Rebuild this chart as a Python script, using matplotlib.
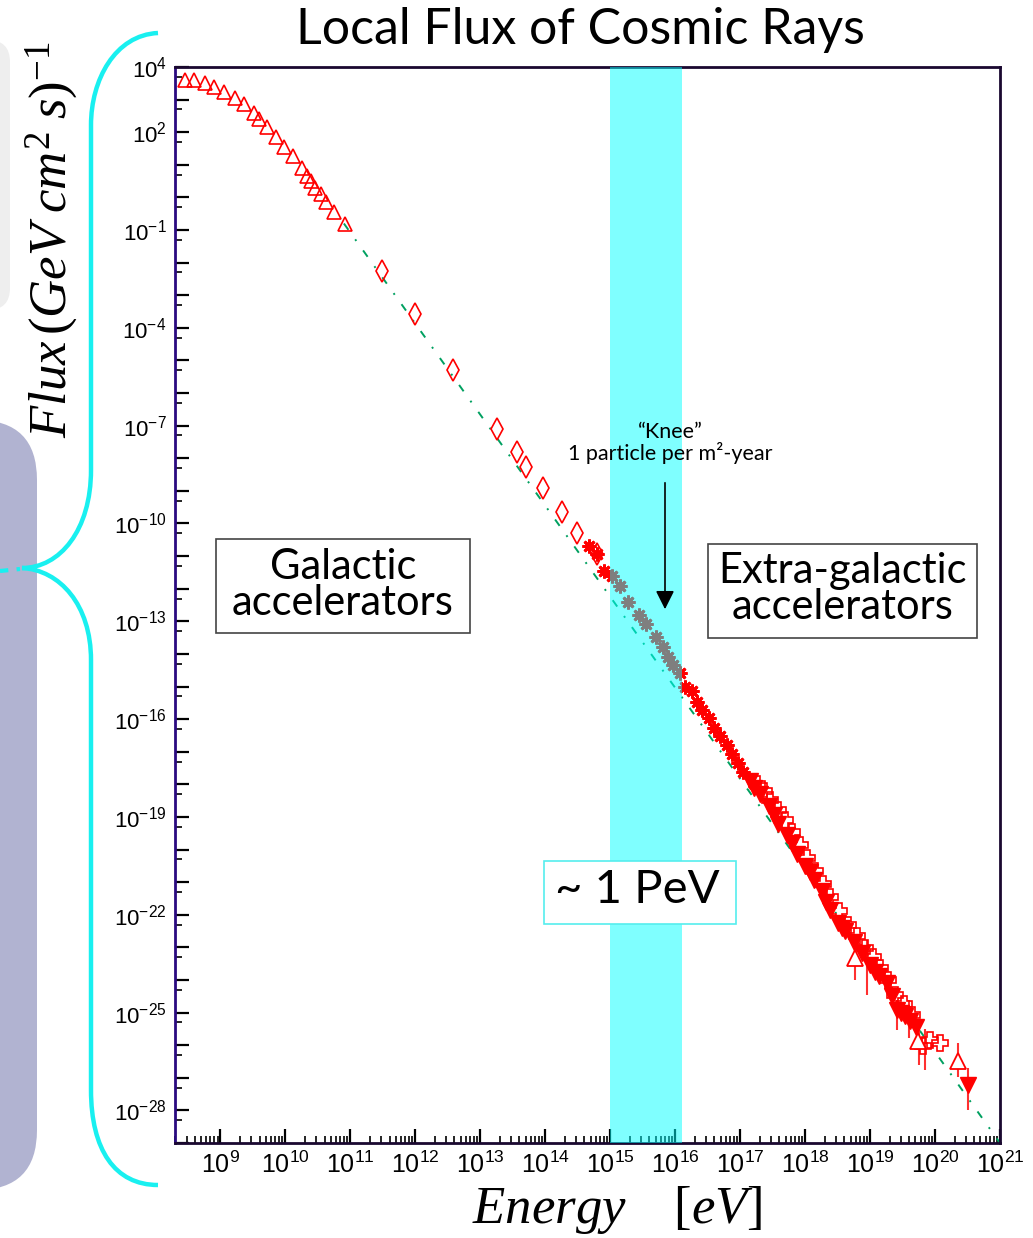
import numpy as np
import matplotlib.pyplot as plt
from matplotlib.patches import FancyBboxPatch, PathPatch, Rectangle
from matplotlib.path import Path
from matplotlib.transforms import IdentityTransform
from matplotlib.ticker import FixedLocator, NullFormatter

plt.rcParams['font.family'] = ['Liberation Sans', 'DejaVu Sans']
plt.rcParams['mathtext.fontset'] = 'custom'
plt.rcParams['mathtext.rm'] = 'Liberation Serif'
plt.rcParams['mathtext.it'] = 'Liberation Serif:italic'

W, H = 1033, 1238

# --- datos (log10 de energia en eV y log10 del flujo) ---
tri_logE = [8.45, 8.60, 8.76, 8.90, 9.05, 9.22, 9.36, 9.51, 9.60, 9.71, 9.85,
            9.98, 10.11, 10.26, 10.33, 10.40, 10.46, 10.54, 10.63, 10.74, 10.91]
tri_logF = [3.60, 3.60, 3.50, 3.40, 3.24, 3.06, 2.85, 2.58, 2.39, 2.17, 1.86,
            1.55, 1.27, 0.91, 0.65, 0.50, 0.30, 0.09, -0.15, -0.45, -0.83]

dia_logE = [11.49, 12.00, 12.58, 13.26, 13.56, 13.71, 13.96, 14.26, 14.49, 14.80]
dia_logF = [-2.26, -3.59, -5.28, -7.10, -7.81, -8.26, -8.90, -9.65, -10.29, -10.95]

star_logE = [14.67, 14.80, 14.91, 15.03, 15.15, 15.28, 15.45, 15.55, 15.71, 15.81,
             15.89, 15.97, 16.08, 16.15, 16.26, 16.33, 16.42, 16.52, 16.60, 16.69,
             16.80, 16.88, 16.97, 17.05]
star_logF = [-10.70, -10.95, -11.46, -11.62, -11.92, -12.40, -12.82, -13.07, -13.48, -13.78,
             -14.09, -14.35, -14.60, -15.00, -15.14, -15.47, -15.71, -15.98, -16.27, -16.52,
             -16.78, -17.06, -17.34, -17.63]

down_logE = [17.15, 17.22, 17.31, 17.44, 17.52, 17.59, 17.72, 17.80, 17.87, 18.00,
             18.07, 18.13, 18.26, 18.32, 18.38, 18.51, 18.57, 18.62, 18.75, 18.87,
             19.00, 19.07, 19.13, 19.26, 19.33, 19.41, 19.48, 19.54, 19.62, 19.70,
             20.50]
down_logF = [-17.90, -18.10, -18.31, -18.67, -18.95, -19.23, -19.54, -19.80, -20.15, -20.51,
             -20.70, -20.92, -21.28, -21.60, -21.84, -22.25, -22.40, -22.51, -22.85, -23.17,
             -23.53, -23.75, -23.89, -24.10, -24.50, -24.91, -25.00, -25.11, -25.27, -25.45,
             -27.21]

cross_logE = [17.26, 17.36, 17.46, 17.58, 17.69, 17.80, 17.92, 18.03, 18.15, 18.27,
              18.38, 18.52, 18.66, 18.80, 18.92, 19.04, 19.15, 19.27, 19.38, 19.52,
              19.65, 19.82, 19.92, 20.07]
cross_logF = [-17.99, -18.20, -18.47, -18.80, -19.08, -19.45, -19.85, -20.25, -20.67, -21.05,
              -21.47, -21.90, -22.30, -22.65, -23.01, -23.30, -23.62, -24.00, -24.45, -24.75,
              -25.06, -26.03, -25.83, -25.93]

hitri_logE = [18.77, 19.74, 20.35]
hitri_logF = [-23.32, -25.88, -26.49]

err_logE = [18.77, 18.95, 19.42, 19.60, 19.75, 19.84, 20.35, 20.50]
err_lo = [-23.99, -24.45, -25.52, -25.77, -26.60, -26.75, -26.99, -27.98]
err_hi = [-22.61, -22.76, -24.60, -24.60, -25.52, -25.50, -25.92, -26.69]

fit_logE = [10.9, 21.0]
fit_logF = [-0.8, -29.0]

xtick_exps = list(range(9, 22))
ytick_exps = [4, 2, -1, -4, -7, -10, -13, -16, -19, -22, -25, -28]

band_logE = [15.0, 16.1]

# --- figura ---
fig = plt.figure(figsize=(W / 100, H / 100), dpi=100)

# paneles decorativos de la diapositiva
fig.patches.append(FancyBboxPatch((-60, H - 310), 70, 270,
                                  boxstyle='round,pad=0,rounding_size=22',
                                  transform=IdentityTransform(), fc='#eeeeee', ec='none'))
fig.patches.append(FancyBboxPatch((-80, H - 1190), 117, 770,
                                  boxstyle='round,pad=0,rounding_size=60',
                                  transform=IdentityTransform(), fc='#b1b3d1', ec='none'))

# llave cyan
pts = [(158, 33), (115, 35), (91, 80), (91, 125),
       (91, 470),
       (91, 530), (60, 568), (22, 568),
       (60, 570), (91, 605), (91, 660),
       (91, 1090),
       (91, 1150), (115, 1185), (158, 1185)]
codes = [Path.MOVETO, Path.CURVE4, Path.CURVE4, Path.CURVE4,
         Path.LINETO,
         Path.CURVE4, Path.CURVE4, Path.CURVE4,
         Path.CURVE4, Path.CURVE4, Path.CURVE4,
         Path.LINETO,
         Path.CURVE4, Path.CURVE4, Path.CURVE4]
brace = Path([(x, H - y) for x, y in pts], codes)
fig.patches.append(PathPatch(brace, transform=IdentityTransform(), fc='none',
                             ec='#19f0f0', lw=3.2))
fig.lines.append(plt.Line2D([0, 20], [H - 571, H - 569], transform=IdentityTransform(),
                            color='#19f0f0', lw=3, ls=(0, (2, 2))))

ax = fig.add_axes([175 / W, 1 - 1143 / H, 825 / W, (1143 - 67) / H])
ax.set_xscale('log')
ax.set_yscale('log')
ax.set_xlim(10 ** 8.3, 1e21)
ax.set_ylim(1e-29, 1e4)

# linea de ajuste
ax.plot(10.0 ** np.array(fit_logE), 10.0 ** np.array(fit_logF), color='#00a060',
        lw=1.4, ls=(0, (4, 6, 1, 6)), zorder=2)

# barras de error
ax.vlines(10.0 ** np.array(err_logE), 10.0 ** np.array(err_lo), 10.0 ** np.array(err_hi),
          color='#ff3030', lw=1.5, zorder=3)

# marcadores
ax.plot(10.0 ** np.array(tri_logE), 10.0 ** np.array(tri_logF), ls='none', marker='^',
        ms=10, mfc='none', mec='red', mew=1.2, zorder=4)
ax.plot(10.0 ** np.array(dia_logE), 10.0 ** np.array(dia_logF), ls='none', marker='d',
        ms=11, mfc='none', mec='red', mew=1.2, zorder=4)
ax.plot(10.0 ** np.array(star_logE), 10.0 ** np.array(star_logF), ls='none', marker=(8, 2, 0),
        ms=10, mec='red', mew=2.0, zorder=4)
ax.plot(10.0 ** np.array(star_logE), 10.0 ** np.array(star_logF), ls='none', marker='s',
        ms=4, color='red', zorder=4)
ax.plot(10.0 ** np.array(cross_logE), 10.0 ** np.array(cross_logF), ls='none', marker='P',
        ms=12, mfc='none', mec='red', mew=1.2, zorder=4)
ax.plot(10.0 ** np.array(down_logE), 10.0 ** np.array(down_logF), ls='none', marker='v',
        ms=11, color='red', zorder=4)
ax.plot(10.0 ** np.array(hitri_logE), 10.0 ** np.array(hitri_logF), ls='none', marker='^',
        ms=11, mfc='white', mec='red', mew=1.3, zorder=4)

# banda de la rodilla (cian semitransparente)
ax.axvspan(10 ** band_logE[0], 10 ** band_logE[1], color='cyan', alpha=0.5, lw=0, zorder=5)

# ejes y ticks
ax.xaxis.set_major_locator(FixedLocator([10.0 ** e for e in xtick_exps]))
ax.xaxis.set_minor_locator(FixedLocator([m * 10.0 ** e for e in range(8, 21)
                                         for m in range(2, 10)]))
ax.set_xticklabels([r'$\mathregular{10^{%d}}$' % e for e in xtick_exps])
ax.xaxis.set_minor_formatter(NullFormatter())

y_major = list(range(-29, 5))
ax.yaxis.set_major_locator(FixedLocator([10.0 ** e for e in y_major]))
ax.yaxis.set_minor_locator(FixedLocator([5 * 10.0 ** e for e in range(-30, 4)]))
ax.set_yticklabels([r'$\mathregular{10^{%d}}$' % e if e in ytick_exps else ''
                    for e in y_major])
ax.yaxis.set_minor_formatter(NullFormatter())

ax.tick_params(which='major', direction='in', length=10, width=1.6, top=False, right=False)
ax.tick_params(which='minor', direction='in', length=5, width=1.2, top=False, right=False)
ax.tick_params(axis='x', labelsize=18, pad=6)
ax.tick_params(axis='y', labelsize=16, pad=6)
for s in ax.spines.values():
    s.set_linewidth(2)
    s.set_color('#1a0830')
ax.spines['left'].set_color('#2a0a80')

# titulo y etiquetas de ejes
fig.text(580 / W, 1 - 30 / H, 'Local Flux of Cosmic Rays', ha='center', va='center',
         fontsize=36, family='Lato')
fig.text(52 / W, 1 - 240 / H, r'$Flux\,(GeV\;cm^2\;s)^{-1}$', rotation=90,
         ha='center', va='center', fontsize=38)
fig.text(617 / W, 1 - 1210 / H, r'$Energy\quad\;[eV]$', ha='center', va='center',
         fontsize=38)

# cajas de texto
fig.patches.append(Rectangle((216, H - 633), 254, 94, transform=IdentityTransform(),
                             fc='white', ec='#444444', lw=1.2))
fig.text(343 / W, 1 - 585 / H, 'Galactic\naccelerators', ha='center', va='center',
         fontsize=30, family='Lato', linespacing=0.95)
fig.patches.append(Rectangle((708, H - 638), 269, 94, transform=IdentityTransform(),
                             fc='white', ec='#444444', lw=1.2))
fig.text(843 / W, 1 - 589 / H, 'Extra-galactic\naccelerators', ha='center', va='center',
         fontsize=30, family='Lato', linespacing=0.95)
fig.patches.append(Rectangle((544, H - 924), 192, 63, transform=IdentityTransform(),
                             fc='white', ec='#55eeee', lw=1.2, zorder=6))
fig.text(637 / W, 1 - 890 / H, '~ 1 PeV', ha='center', va='center',
         fontsize=34, family='Lato', zorder=7)

# anotacion de la rodilla
fig.text(670 / W, 1 - 443 / H, '\u201cKnee\u201d\n1 particle per m\u00b2-year',
         ha='center', va='center', fontsize=15.5, family='Lato', linespacing=1.0)
ax.annotate('', xy=(665, H - 612), xytext=(665, H - 480), xycoords='figure pixels',
            textcoords='figure pixels', zorder=8,
            arrowprops=dict(arrowstyle='-|>', mutation_scale=28, color='black', lw=1.2))

fig.savefig('out.png', dpi=100)
